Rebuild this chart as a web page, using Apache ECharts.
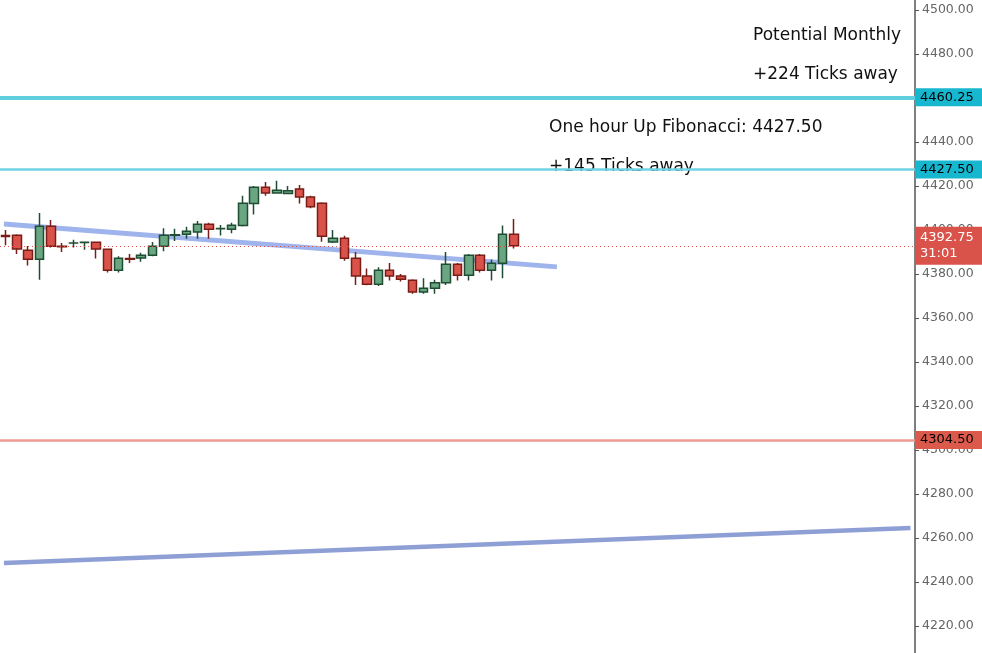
<!DOCTYPE html>
<html><head><meta charset="utf-8">
<script src="https://cdn.jsdelivr.net/npm/echarts@6/dist/echarts.min.js"></script>
<style>html,body{margin:0;padding:0;background:#fff}#c{width:982px;height:653px}</style>
</head><body><div id="c"></div>
<script>
// [open, close, low, high]
const candles = [
[4397.5,4397,4393,4400],[4397.6,4391.3,4389,4398],[4390.8,4386.7,4383.8,4392.7],[4386.7,4401.7,4377.3,4407.7],
[4401.7,4392.6,4392,4404.5],[4392.6,4392.3,4390,4394],[4394,4394.1,4392,4395.5],[4394.3,4394.4,4391,4394.6],
[4394.4,4391.3,4387,4394.6],[4391.2,4381.7,4380.7,4391.4],[4381.7,4387.1,4380.7,4388],[4387,4386.7,4385,4389],
[4387.2,4388.5,4385.5,4389.6],[4388.5,4392.6,4388,4394.5],[4392.6,4397.6,4390.3,4400.7],[4397.6,4397.8,4395,4400.5],
[4398,4399.4,4396,4401.4],[4399,4402.6,4396,4404],[4402.6,4400.3,4396,4403.3],[4400.5,4400.6,4397.5,4402.2],
[4400.3,4402.1,4398.5,4403.3],[4402,4412.1,4401.5,4415.5],[4412,4419.4,4407,4420],[4419.4,4416.8,4415.5,4421.8],
[4416.8,4418,4416.5,4422.3],[4416.6,4417.8,4416.2,4420],[4418.6,4415,4412,4420.4],[4415,4410.5,4409.8,4415.5],
[4412.1,4397.1,4394.6,4412.6],[4394.5,4396.2,4394,4400],[4396.2,4387.1,4386,4397.3],[4387.1,4379,4375,4390],
[4379,4375.3,4374.8,4382.5],[4375.3,4381.7,4374.5,4383],[4381.7,4379,4377,4385],[4379,4377.6,4376.5,4380],
[4377.1,4371.8,4371,4377.6],[4371.8,4373.5,4371,4378],[4373.5,4376,4371,4377.3],[4376,4384.4,4375,4390],
[4384.4,4379.4,4377,4385],[4379.4,4388.5,4377,4389],[4388.5,4381.7,4380.7,4389],[4381.7,4384.8,4377,4386.5],
[4384.8,4398,4378,4402],[4398,4392.75,4391.5,4405]
];
const slots = 81;
const categories = Array.from({length: slots}, (_, i) => 'C' + (i + 1));
const tickValues = [4220,4240,4260,4280,4300,4320,4340,4360,4380,4400,4420,4440,4460,4480,4500];
const levels = [4460.25, 4427.50, 4304.50];
const lastPrice = 4392.75;
const shortTrend = [[-0.15, 4402.7], [48.8, 4383.2]];
const longTrend = [[-0.15, 4248.6], [80.1, 4264.5]];

const chart = echarts.init(document.getElementById('c'));
const lbl = (bg, fg) => ({position: 'end', distance: 0, backgroundColor: bg, color: fg, fontSize: 13,
  fontFamily: 'DejaVu Sans', padding: [3, 5, 2, 5], width: 57, align: 'left', formatter: p => p.value.toFixed(2)});
chart.setOption({
  animation: false,
  grid: {left: -4, right: 67, top: 0, bottom: 0},
  xAxis: [
    {type: 'category', data: categories, show: false},
    {type: 'value', min: -0.5, max: slots - 0.5, show: false}
  ],
  yAxis: {type: 'value', position: 'right', min: 4207.7, max: 4504.5,
    axisLine: {show: true, onZero: false, lineStyle: {color: '#555', width: 1.5}},
    axisTick: {show: true, length: 4, lineStyle: {color: '#555'}, customValues: tickValues},
    splitLine: {show: false},
    axisLabel: {color: '#666', fontSize: 12.5, fontFamily: 'DejaVu Sans', margin: 7,
      formatter: v => v.toFixed(2), customValues: tickValues}
  },
  series: [
    {type: 'line', xAxisIndex: 1, data: longTrend, symbol: 'none', lineStyle: {color: '#8e9fd6', width: 4.5}, z: 1},
    {type: 'line', xAxisIndex: 1, data: shortTrend, symbol: 'none', lineStyle: {color: '#9fb3ec', width: 5}, z: 1},
    {type: 'candlestick', data: candles, barWidth: 9,
      itemStyle: {color: '#6aa682', color0: '#d9534a', borderColor: '#1e4d33', borderColor0: '#7a1d17', borderWidth: 1.5},
      z: 3,
      markLine: {symbol: 'none', silent: true, animation: false,
        data: [
          {yAxis: levels[0], lineStyle: {color: '#5fcfdf', width: 4, type: 'solid'}, label: lbl('#17b7cf', '#000')},
          {yAxis: levels[1], lineStyle: {color: '#6fd3e3', width: 2.5, type: 'solid'}, label: lbl('#17b7cf', '#000')},
          {yAxis: levels[2], lineStyle: {color: '#ec9a92', width: 2.5, type: 'solid'}, label: lbl('#db5a4c', '#000')},
          {yAxis: lastPrice, lineStyle: {color: '#d9534a', width: 1, type: [1, 3]},
            label: Object.assign(lbl('#d9534a', '#fff'), {formatter: '4392.75\n31:01', lineHeight: 16, padding: [4, 5, 2, 5]})}
        ]}
    }
  ],
  graphic: [
    {type: 'text', left: 753, top: 27, style: {text: 'Potential Monthly', font: '17px "DejaVu Sans"', fill: '#111'}},
    {type: 'text', left: 753, top: 66, style: {text: '+224 Ticks away', font: '17px "DejaVu Sans"', fill: '#111'}},
    {type: 'text', left: 549, top: 119, style: {text: 'One hour Up Fibonacci: 4427.50', font: '17px "DejaVu Sans"', fill: '#111'}},
    {type: 'text', left: 549, top: 158, style: {text: '+145 Ticks away', font: '17px "DejaVu Sans"', fill: '#111'}}
  ]
});
</script></body></html>
